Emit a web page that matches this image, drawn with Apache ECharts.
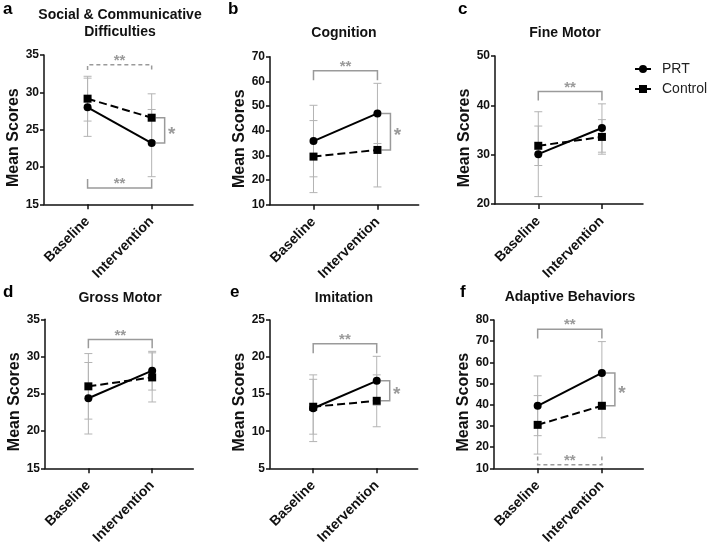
<!DOCTYPE html>
<html><head><meta charset="utf-8">
<script src="https://cdn.jsdelivr.net/npm/echarts@6/dist/echarts.min.js"></script>
<style>html,body{margin:0;padding:0;background:#fff}#c{width:709px;height:547px}</style>
</head><body><div id="c"></div>
<script>
// ---------- data ----------
const categories = ['Baseline', 'Intervention'];
const seriesNames = ['PRT', 'Control'];
const panelLetters = ['a', 'b', 'c', 'd', 'e', 'f'];
const panelTitles = [['Social & Communicative', 'Difficulties'], ['Cognition'], ['Fine Motor'], ['Gross Motor'], ['Imitation'], ['Adaptive Behaviors']];
const yAxisName = 'Mean Scores';
const yMin = [15, 10, 20, 15, 5, 10];
const yMax = [35, 70, 50, 35, 25, 80];
const yStep = [5, 10, 10, 5, 5, 10];
const prtMean = [[28.0, 23.2], [35.8, 47.0], [30.1, 35.4], [24.4, 28.1], [13.1, 16.8], [39.5, 55.0]];
const prtSD = [[3.9, 4.5], [14.5, 12.2], [8.6, 4.9], [4.8, 2.6], [4.5, 3.3], [14.1, 14.8]];
const controlMean = [[29.15, 26.6], [29.5, 32.2], [31.8, 33.6], [26.0, 27.2], [13.3, 14.1], [30.5, 39.5]];
const controlSD = [[3.0, 3.2], [14.6, 15.0], [4.0, 3.5], [4.4, 3.3], [3.7, 3.5], [13.8, 15.1]];
// significance annotations (data units): time effect brackets and group effect at intervention
const topBracketLevel = [33.7, 64.3, 42.8, 32.3, 21.8, 75.6];
const topBracketEnd = [33.0, 60.5, 41.0, 31.1, 20.5, 71.3];
const topBracketLabel = ['**', '**', '**', '**', '**', '**'];
const bottomBracketLevel = [17.2, null, null, null, null, 11.7];
const bottomBracketEnd = [18.4, null, null, null, null, 15.6];
const bottomBracketLabel = ['**', null, null, null, null, '**'];
const groupLabel = ['*', '*', null, null, '*', '*'];

// ---------- layout / style ----------
const FONT = 'Liberation Sans, Arial, sans-serif';
const grids = [
  {left: 44, top: 55, width: 149, height: 149.3},
  {left: 270, top: 56.7, width: 148.7, height: 148},
  {left: 495, top: 56, width: 148, height: 148},
  {left: 45, top: 319.3, width: 148.3, height: 149},
  {left: 270, top: 320, width: 147.7, height: 149.3},
  {left: 494, top: 320, width: 149.3, height: 149}
];
const nameGaps = [7, 11, 15, 16, 13, 14];
const titleCenters = [[120, [15, 32]], [344, [33]], [565, [33]], [120, [298]], [344, [298]], [570, [297.5]]];
const letterPos = [[3, 9], [228, 9], [458, 9], [3, 292], [230, 292], [460, 292]];
const dashedTop = [true, false, false, false, false, false];
const dashedBottom = [false, false, false, false, false, true];
const GRAY = '#9a9a9a';
const EBAR = '#b4b4b4';

const xAxes = [], yAxes = [], series = [], graphics = [];

function errRender(params, api) {
  const x = api.value(0);
  const lo = api.coord([x, api.value(1)]);
  const hi = api.coord([x, api.value(2)]);
  const st = {stroke: EBAR, lineWidth: 1};
  return {type: 'group', children: [
    {type: 'line', shape: {x1: lo[0], y1: lo[1], x2: hi[0], y2: hi[1]}, style: st},
    {type: 'line', shape: {x1: lo[0] - 4, y1: lo[1], x2: lo[0] + 4, y2: lo[1]}, style: st},
    {type: 'line', shape: {x1: hi[0] - 4, y1: hi[1], x2: hi[0] + 4, y2: hi[1]}, style: st}
  ]};
}

function annotRender(p) {
  return function (params, api) {
    const children = [];
    const x0 = api.coord([0, yMin[p]])[0];
    const x1 = api.coord([1, yMin[p]])[0];
    function bracket(level, end, label, dashed) {
      const yl = api.coord([0, level])[1];
      const ye = api.coord([0, end])[1];
      children.push({type: 'polyline', shape: {points: [[x0, ye], [x0, yl], [x1, yl], [x1, ye]]},
        style: {stroke: GRAY, lineWidth: 1.5, fill: null, lineDash: dashed ? [4, 3] : null}});
      children.push({type: 'text', style: {text: label, x: (x0 + x1) / 2, y: yl - 4, align: 'center', verticalAlign: 'middle',
        fill: GRAY, font: 'bold 15px ' + FONT}});
    }
    if (topBracketLevel[p] != null) bracket(topBracketLevel[p], topBracketEnd[p], topBracketLabel[p], dashedTop[p]);
    if (bottomBracketLevel[p] != null) bracket(bottomBracketLevel[p], bottomBracketEnd[p], bottomBracketLabel[p], dashedBottom[p]);
    if (groupLabel[p]) {
      const yp = api.coord([1, prtMean[p][1]])[1];
      const yc = api.coord([1, controlMean[p][1]])[1];
      children.push({type: 'polyline', shape: {points: [[x1 + 4, yp], [x1 + 13, yp], [x1 + 13, yc], [x1 + 4, yc]]},
        style: {stroke: GRAY, lineWidth: 1.5, fill: null}});
      children.push({type: 'text', style: {text: groupLabel[p], x: x1 + 20, y: (yp + yc) / 2 + 4, align: 'center', verticalAlign: 'middle',
        fill: GRAY, font: 'bold 19px ' + FONT}});
    }
    return {type: 'group', children: children};
  };
}

for (let p = 0; p < 6; p++) {
  xAxes.push({
    type: 'value', gridIndex: p, min: -0.68, max: 1.645,
    axisLine: {show: true, onZero: false, lineStyle: {color: '#111', width: 1.5}},
    axisTick: {show: true, customValues: [0, 1], length: 5, lineStyle: {color: '#111', width: 1.5}},
    axisLabel: {show: true, customValues: [0, 1], formatter: v => categories[Math.round(v)] || '',
      rotate: 45, margin: 15, color: '#111', fontWeight: 'bold', fontSize: 14, fontFamily: FONT},
    splitLine: {show: false}
  });
  yAxes.push({
    type: 'value', gridIndex: p, min: yMin[p], max: yMax[p], interval: yStep[p],
    name: yAxisName, nameLocation: 'middle', nameGap: nameGaps[p],
    nameTextStyle: {fontSize: 16, fontWeight: 'bold', color: '#111', fontFamily: FONT, padding: [0, 16, 0, 0]},
    axisLine: {show: true, onZero: false, lineStyle: {color: '#111', width: 1.5}},
    axisTick: {show: true, length: 4, lineStyle: {color: '#111', width: 1.5}},
    axisLabel: {margin: 5, color: '#111', fontWeight: 'bold', fontSize: 12, fontFamily: FONT},
    splitLine: {show: false}
  });
  const groups = [
    {name: seriesNames[0], mean: prtMean[p], sd: prtSD[p], symbol: 'circle', dash: 'solid'},
    {name: seriesNames[1], mean: controlMean[p], sd: controlSD[p], symbol: 'rect', dash: [8, 4]}
  ];
  groups.forEach(g => {
    series.push({
      type: 'custom', xAxisIndex: p, yAxisIndex: p, z: 1, silent: true,
      data: categories.map((c, i) => [i, g.mean[i] - g.sd[i], g.mean[i] + g.sd[i]]),
      encode: {x: 0, y: [1, 2]},
      renderItem: errRender
    });
  });
  groups.slice().reverse().forEach(g => {
    series.push({
      type: 'line', name: g.name, xAxisIndex: p, yAxisIndex: p, z: 3,
      data: categories.map((c, i) => [i, g.mean[i]]),
      symbol: g.symbol, symbolSize: 8, showSymbol: true,
      lineStyle: {color: '#000', width: 2, type: g.dash},
      itemStyle: {color: '#000', borderWidth: 0}
    });
  });
  series.push({
    type: 'custom', xAxisIndex: p, yAxisIndex: p, z: 2, silent: true,
    data: [[0, yMin[p]]], renderItem: annotRender(p)
  });
  // titles and panel letters
  const tc = titleCenters[p];
  panelTitles[p].forEach((t, k) => {
    graphics.push({type: 'text', x: tc[0], y: tc[1][k],
      style: {text: t, textAlign: 'center', textVerticalAlign: 'middle', fill: '#111', font: 'bold 14px ' + FONT}});
  });
  graphics.push({type: 'text', x: letterPos[p][0], y: letterPos[p][1],
    style: {text: panelLetters[p], textAlign: 'left', textVerticalAlign: 'middle', fill: '#000', font: 'bold 17px ' + FONT}});
}

const chart = echarts.init(document.getElementById('c'), null, {renderer: 'canvas'});
chart.setOption({
  animation: false,
  backgroundColor: '#fff',
  textStyle: {fontFamily: FONT},
  grid: grids,
  xAxis: xAxes,
  yAxis: yAxes,
  legend: {
    data: seriesNames, orient: 'vertical', left: 629, top: 57, itemWidth: 16, itemHeight: 10, itemGap: 6,
    textStyle: {fontSize: 14, color: '#222', fontFamily: FONT, padding: [0, 0, 0, 6]}
  },
  series: series,
  graphic: graphics
});
</script>
</body></html>
